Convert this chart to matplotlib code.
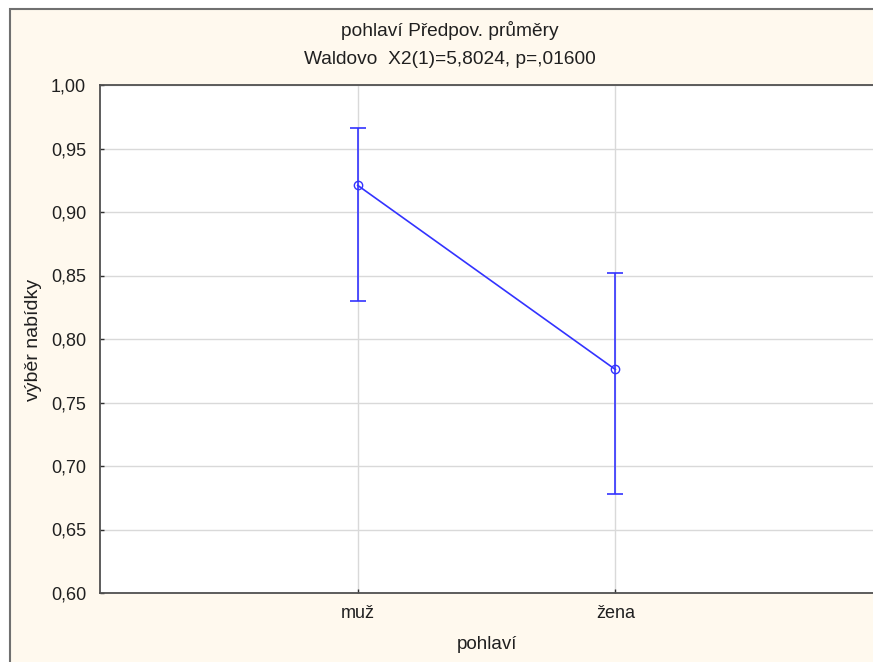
import matplotlib
matplotlib.use("Agg")
import matplotlib.pyplot as plt
from matplotlib.patches import Rectangle
from matplotlib.ticker import FixedLocator, FuncFormatter

categories = ["muž", "žena"]
means = [0.921, 0.776]
upper = [0.966, 0.852]
lower = [0.830, 0.678]
yticks = [0.60, 0.65, 0.70, 0.75, 0.80, 0.85, 0.90, 0.95, 1.00]

plt.rcParams['font.family'] = ['Liberation Sans', 'DejaVu Sans']

W, H = 873, 662
fig = plt.figure(figsize=(W/100, H/100), dpi=100, facecolor='white')

# outer cream panel with gray border
fig.patches.append(Rectangle((10/W, -0.1), 1.2, 1 - 9/H + 0.1, transform=fig.transFigure,
                             facecolor='#fff9ee', edgecolor='#707070', linewidth=1.5, zorder=-10))

ax = fig.add_axes([100/W, 1 - 593/H, (W - 100)/W, (593 - 85)/H])
ax.set_zorder(5)
ax.set_facecolor('white')
x = list(range(len(categories)))
yerr = [[m - l for m, l in zip(means, lower)], [u - m for u, m in zip(upper, means)]]
ax.errorbar(x, means, yerr=yerr, color='#3333ff', linewidth=1.2, elinewidth=1.2,
            capsize=6, capthick=1.2, marker='o', markersize=6, markerfacecolor='none',
            markeredgecolor='#3333ff', zorder=3, clip_on=False)

ax.set_xlim(-1, 2)
ax.set_ylim(0.60, 1.00)
ax.yaxis.set_major_locator(FixedLocator(yticks))
ax.yaxis.set_major_formatter(FuncFormatter(lambda v, p: f"{v:.2f}".replace('.', ',')))
ax.set_xticks(x)
ax.set_xticklabels(categories)
ax.grid(True, color='#d9d9d9', linewidth=1)
ax.set_axisbelow(True)
for s in ['left', 'bottom', 'top']:
    ax.spines[s].set_color('#505050')
    ax.spines[s].set_linewidth(1.3)
ax.spines['right'].set_visible(False)
ax.tick_params(direction='in', length=3, width=1, color='#303030', labelsize=13,
               labelcolor='#202020', pad=10)
ax.tick_params(axis='x', pad=9)

ax.set_xlabel('pohlaví', fontsize=13.5, color='#202020', labelpad=10)
fig.text(34/W, 1 - 340/H, 'výběr nabídky', rotation=90, ha='center', va='center',
         fontsize=14, color='#202020')

fig.text(450/W, 1 - 30/H, 'pohlaví Předpov. průměry', ha='center', va='center',
         fontsize=13.8, color='#202020')
fig.text(450/W, 1 - 60/H, 'Waldovo  X2(1)=5,8024, p=,01600', ha='center', va='center',
         fontsize=13.8, color='#202020')

fig.savefig('out.png', dpi=100, facecolor='white')
